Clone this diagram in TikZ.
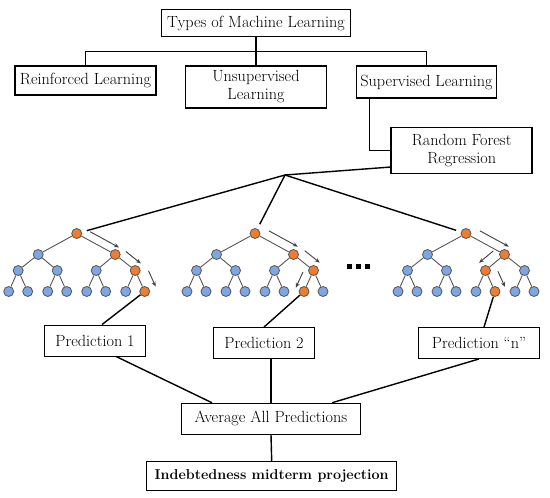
\documentclass[tikz,border=0pt]{standalone}
\usetikzlibrary{calc,arrows.meta}

\definecolor{rfblue}{RGB}{126,166,228}
\definecolor{rforange}{RGB}{237,125,49}
\definecolor{rfgray}{RGB}{85,85,85}

\tikzset{
  topbox/.style={draw, line width=1.5pt, inner sep=1pt, align=center,
    font=\fontsize{16.2}{18}\selectfont},
  predbox/.style={draw, line width=0.9pt, inner sep=1pt, align=center,
    font=\fontsize{16.2}{18}\selectfont},
  link/.style={line width=1.4pt},
  treenode/.style={circle, draw=rfgray, line width=0.8pt, fill=rfblue,
    minimum size=10pt, inner sep=0pt},
  tnode/.code={\pgfkeysalso{treenode}%
    \ifnum#1=1\relax\pgfkeysalso{fill=rforange}\fi
    \ifnum#1=3\relax\pgfkeysalso{fill=rforange}\fi
    \ifnum#1=\orA\relax\pgfkeysalso{fill=rforange}\fi
    \ifnum#1=\orB\relax\pgfkeysalso{fill=rforange}\fi},
  branch/.style={draw=rfgray, line width=0.9pt},
  walk/.style={draw=black!75, line width=0.9pt, -{Stealth[length=5pt,width=4pt]}},
  dotsq/.style={fill=black, minimum size=5pt, inner sep=0pt}
}

% pohon: nama, x akar, y akar, simpul oranye level 2, daun oranye
\newcommand{\rftree}[5]{%
  \def\orA{#4}\def\orB{#5}%
  \begin{scope}[shift={(#2,#3)}]
    \node[tnode=1] (#1-1) at (0,0) {};
    \foreach \j in {0,1} {
      \pgfmathtruncatemacro\k{2+\j}
      \node[tnode=\k] (#1-\k) at ({-38.5+77*\j},21) {};
    }
    \foreach \j in {0,...,3} {
      \pgfmathtruncatemacro\k{4+\j}
      \node[tnode=\k] (#1-\k) at ({-58.5+39*\j},37) {};
    }
    \foreach \j in {0,...,7} {
      \pgfmathtruncatemacro\k{8+\j}
      \node[tnode=\k] (#1-\k) at ({-68+39*int(\j/2)+19*mod(\j,2)},58) {};
    }
    \foreach \k in {2,...,15} {
      \pgfmathtruncatemacro\p{\k/2}
      \draw[branch] (#1-\p) -- (#1-\k);
    }
  \end{scope}}

% panah jalur: dari, ke, sisi, jarak
\newcommand{\walk}[4]{%
  \path ($(#1)!#4!#3:(#2)$) coordinate (wa);
  \draw[walk] ($(#1)!.25!(#2)+(wa)-(#1)$) -- ($(#2)+(wa)-(#1)$);}

\begin{document}
\begin{tikzpicture}[x=1pt, y=-1pt]
\useasboundingbox (0,0) rectangle (550,498);

% --- kotak atas ---
\node[topbox, minimum width=189pt, minimum height=27pt] (types) at (256,23) {Types of Machine Learning};
\node[topbox, minimum width=141pt, minimum height=29pt] (rl) at (85.5,80.5) {Reinforced Learning};
\node[topbox, minimum width=141pt, minimum height=42pt] (ul) at (256,87) {Unsupervised\\Learning};
\node[topbox, minimum width=140pt, minimum height=32pt] (sl) at (426.5,82) {Supervised Learning};
\node[topbox, minimum width=141pt, minimum height=46pt] (rf) at (461.7,150.3) {Random Forest\\Regression};

\coordinate (bus) at (0,51.7);
\draw[link] (types.south) -- (types.south |- bus);
\draw[link] (rl.north) -- (rl.north |- bus) -| (sl.north);
\draw[link] (ul.north) -- (ul.north |- bus);
\draw[link] ([xshift=14pt]sl.south west) |- (rf.west);

% --- pohon ---
\rftree{t1}{76.7}{233.5}{7}{15}
\rftree{t2}{255}{233.5}{7}{14}
\rftree{t3}{466}{233.5}{6}{13}

\coordinate (fan) at (285,175);
\draw[link] ([yshift=7pt]rf.south west) -- (fan);
\foreach \t in {t1,t2,t3}
  \draw[link, shorten >=5pt] (fan) -- (\t-1);

\walk{t1-1}{t1-3}{90}{8pt}
\walk{t1-3}{t1-7}{90}{9pt}
\walk{t1-7}{t1-15}{90}{12pt}
\walk{t2-1}{t2-3}{90}{9pt}
\walk{t2-3}{t2-7}{90}{10pt}
\walk{t2-7}{t2-14}{-90}{9pt}
\walk{t3-1}{t3-3}{90}{9pt}
\walk{t3-3}{t3-6}{-90}{10pt}
\walk{t3-6}{t3-13}{90}{11pt}

\foreach \i/\x in {1/349.5,2/358.3,3/367.2}
  \node[dotsq] (dot\i) at (\x,266.7) {};

% --- prediksi ---
\node[predbox, minimum width=101pt, minimum height=31pt] (p1) at (95,340.5) {Prediction 1};
\node[predbox, minimum width=101pt, minimum height=31pt] (p2) at (264,343) {Prediction 2};
\node[predbox, minimum width=121pt, minimum height=31pt] (pn) at (479,343) {Prediction ``n''};
\node[predbox, minimum width=179pt, minimum height=31pt] (avg) at (271,418.7) {Average All Predictions};
\node[predbox, line width=1.2pt, minimum width=250pt, minimum height=29pt,
  font=\fontsize{14.3}{16}\selectfont\bfseries] (ind) at (271.7,476.3) {Indebtedness midterm projection};

\draw[link] ([xshift=7pt]p1.north) -- (t1-15);
\draw[link] (p2.north) -- (t2-14);
\draw[link] ([xshift=5pt]pn.north) -- (t3-13);
\draw[link] ([xshift=21pt]p1.south) -- ([xshift=-59pt]avg.north);
\draw[link] (avg.north) -- (avg.north |- p2.south);
\draw[link] (pn.south) -- ([xshift=61pt]avg.north);
\draw[link] (avg.south) -- (ind.north);

\end{tikzpicture}
\end{document}
